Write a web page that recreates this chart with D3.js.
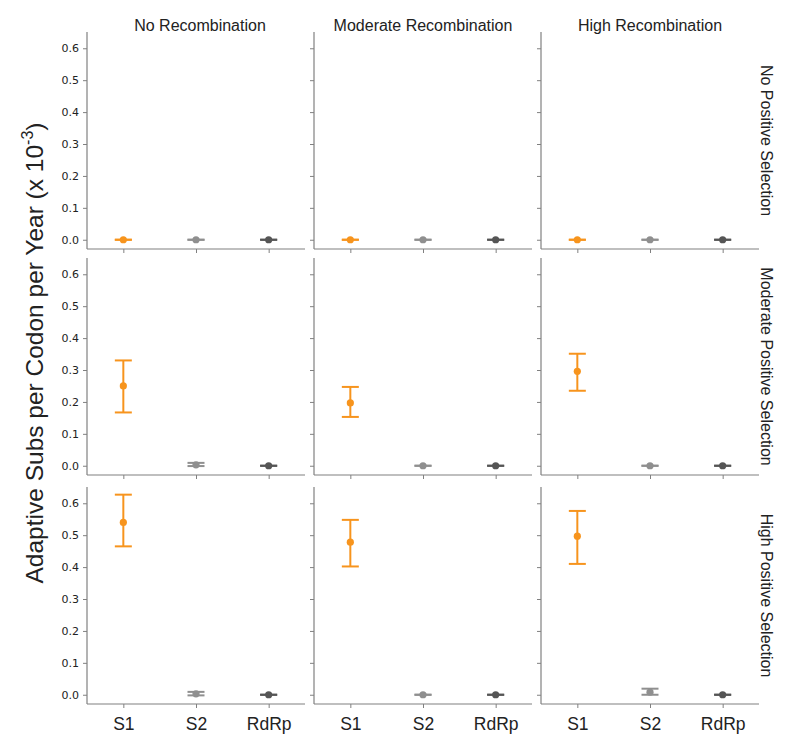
<!DOCTYPE html>
<html><head><meta charset="utf-8">
<script src="https://cdn.jsdelivr.net/npm/d3@7"></script>
<style>body{margin:0;background:#fff;font-family:"Liberation Sans",Arial,sans-serif;}</style>
</head><body><div id="chart"></div>
<script>
const genes = ["S1","S2","RdRp"];
const colTitles = ["No Recombination","Moderate Recombination","High Recombination"];
const rowTitles = ["No Positive Selection","Moderate Positive Selection","High Positive Selection"];
const yTicks = [0.0,0.1,0.2,0.3,0.4,0.5,0.6];
const geneColors = ["#f7941d","#8f8f8f","#555555"];
// means[row][col][gene], lower/upper CI same shape
const means = [
  [[0,0,0],[0,0,0],[0,0,0]],
  [[0.25,0.003,0],[0.197,0,0],[0.296,0,0]],
  [[0.54,0.003,0],[0.478,0,0],[0.497,0.008,0]]
];
const lowers = [
  [[0,0,0],[0,0,0],[0,0,0]],
  [[0.167,-0.001,0],[0.153,0,0],[0.235,0,0]],
  [[0.465,-0.002,0],[0.402,0,0],[0.41,0,0]]
];
const uppers = [
  [[0,0,0],[0,0,0],[0,0,0]],
  [[0.33,0.009,0],[0.247,0,0],[0.351,0,0]],
  [[0.627,0.009,0],[0.548,0,0],[0.576,0.019,0]]
];

const W=800,H=750;
const svg=d3.select("#chart").append("svg").attr("width",W).attr("height",H);
const colX=[87,314,541], rowY=[32,258,487], pw=218, ph=217;
const spine="#808080";

for(let r=0;r<3;r++){
  for(let c=0;c<3;c++){
    const g=svg.append("g").attr("transform",`translate(${colX[c]},${rowY[r]})`);
    const x=d3.scalePoint().domain(genes).range([0,pw]).padding(0.5);
    const y=d3.scaleLinear().domain([-0.029,0.651]).range([ph,0]);
    const ya=d3.axisLeft(y).tickValues(yTicks).tickSize(4).tickPadding(4)
      .tickFormat(c===0?d3.format(".1f"):()=> "");
    const yg=g.append("g").call(ya);
    const xa=d3.axisBottom(x).tickSize(4).tickPadding(10).tickFormat(r===2?(d=>d):()=> "");
    const xg=g.append("g").attr("transform",`translate(0,${ph})`).call(xa);
    [yg,xg].forEach(a=>{a.select(".domain").attr("stroke",spine).attr("stroke-width",1.2).attr("d",null);
      a.selectAll(".tick line").attr("stroke",spine);});
    yg.select(".domain").attr("d",`M0,0V${ph}`);
    xg.select(".domain").attr("d",`M0,0H${pw}`);
    yg.selectAll(".tick text").attr("font-size",11).attr("fill","#222").attr("font-family","DejaVu Sans, sans-serif");
    xg.selectAll(".tick text").attr("font-size",17.5).attr("fill","#222").attr("font-family","Liberation Sans, Arial, sans-serif");
    genes.forEach((gn,i)=>{
      const cx=x(gn), col=geneColors[i];
      const lo=y(lowers[r][c][i]), hi=y(uppers[r][c][i]), m=y(means[r][c][i]);
      g.append("line").attr("x1",cx).attr("x2",cx).attr("y1",lo).attr("y2",hi).attr("stroke",col).attr("stroke-width",2);
      g.append("line").attr("x1",cx-8.5).attr("x2",cx+8.5).attr("y1",lo).attr("y2",lo).attr("stroke",col).attr("stroke-width",2);
      g.append("line").attr("x1",cx-8.5).attr("x2",cx+8.5).attr("y1",hi).attr("y2",hi).attr("stroke",col).attr("stroke-width",2);
      g.append("circle").attr("cx",cx).attr("cy",m).attr("r",3.6).attr("fill",col);
    });
  }
}
colTitles.forEach((t,c)=>{
  svg.append("text").attr("x",colX[c]+pw/2+(c===0?4:0)).attr("y",31).attr("text-anchor","middle")
    .attr("font-size",16).attr("fill","#222").text(t);
});
rowTitles.forEach((t,r)=>{
  const cy=rowY[r]+ph/2, cx=767;
  svg.append("text").attr("transform",`translate(${cx},${cy}) rotate(90)`).attr("text-anchor","middle")
    .attr("dy","0.35em").attr("font-size",16).attr("fill","#222").text(t);
});
const yl=svg.append("text").attr("transform","translate(43,353) rotate(-90)").attr("text-anchor","middle")
  .attr("font-size",24.5).attr("fill","#222");
yl.append("tspan").text("Adaptive Subs per Codon per Year (x 10");
yl.append("tspan").attr("dy",-10).attr("font-size",16).text("-3");
yl.append("tspan").attr("dy",10).text(")");
</script></body></html>
